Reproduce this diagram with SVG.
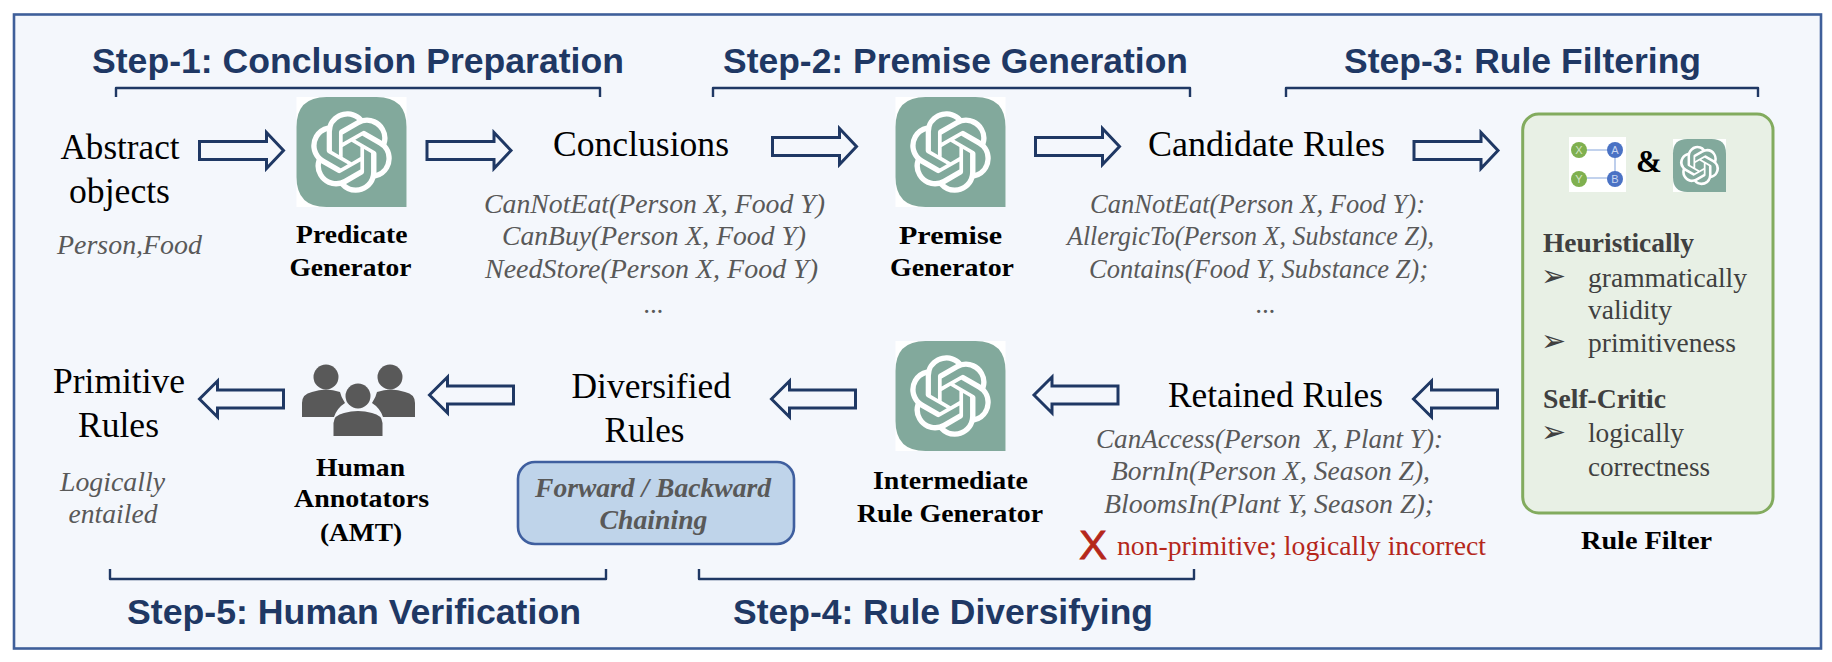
<svg xmlns="http://www.w3.org/2000/svg" width="1832" height="662" viewBox="0 0 1832 662">
<style>
text{font-family:"Liberation Serif","Times New Roman",serif;white-space:pre}
.step{font-family:"Liberation Sans",Arial,sans-serif;font-weight:700;font-size:35px;fill:#1f3864}
.node{font-size:36px;fill:#000}
.ital{font-size:26.500px;font-style:italic;fill:#595959}
.lab{font-size:26px;font-weight:700;fill:#000}
.fil{font-size:27px;fill:#404040}
.filb{font-size:27px;font-weight:700;fill:#404040}
.bul{font-family:"DejaVu Sans",sans-serif;font-size:30px;fill:#404040}
.red{font-size:27px;fill:#b5271b}
.arrow{fill:#f4f7fc;stroke:#1f3864;stroke-width:3;stroke-linejoin:miter}
.brace{fill:none;stroke:#1f3864;stroke-width:2.400;stroke-linejoin:round}
.tiny{font-family:"Liberation Sans",sans-serif;font-size:11px;text-anchor:middle}
</style>
<defs>
<symbol id="logo" viewBox="0 0 110 110">
<rect width="110" height="110" fill="#fff"/>
<path d="M30 0H80Q110 0 110 30V110H30Q0 110 0 80V30Q0 0 30 0Z" fill="#82a99c"/>
<path transform="translate(14.2 14.2) scale(3.4)" fill="#fff" d="M22.2819 9.8211a5.9847 5.9847 0 0 0-.5157-4.9108 6.0462 6.0462 0 0 0-6.5098-2.9A6.0651 6.0651 0 0 0 4.9807 4.1818a5.9847 5.9847 0 0 0-3.9977 2.9 6.0462 6.0462 0 0 0 .7427 7.0966 5.98 5.98 0 0 0 .511 4.9107 6.051 6.051 0 0 0 6.5146 2.9001A5.9847 5.9847 0 0 0 13.2599 24a6.0557 6.0557 0 0 0 5.7718-4.2058 5.9894 5.9894 0 0 0 3.9977-2.9001 6.0557 6.0557 0 0 0-.7475-7.0729zm-9.022 12.6081a4.4755 4.4755 0 0 1-2.8764-1.0408l.1419-.0804 4.7783-2.7582a.7948.7948 0 0 0 .3927-.6813v-6.7369l2.02 1.1686a.071.071 0 0 1 .038.052v5.5826a4.504 4.504 0 0 1-4.4945 4.4944zm-9.6607-4.1254a4.4708 4.4708 0 0 1-.5346-3.0137l.142.0852 4.783 2.7582a.7712.7712 0 0 0 .7806 0l5.8428-3.3685v2.3324a.0804.0804 0 0 1-.0332.0615L9.74 19.9502a4.4992 4.4992 0 0 1-6.1408-1.6464zM2.3408 7.8956a4.485 4.485 0 0 1 2.3655-1.9728V11.6a.7664.7664 0 0 0 .3879.6765l5.8144 3.3543-2.0201 1.1685a.0757.0757 0 0 1-.071 0l-4.8303-2.7865A4.504 4.504 0 0 1 2.3408 7.872zm16.5963 3.8558L13.1038 8.364 15.1192 7.2a.0757.0757 0 0 1 .071 0l4.8303 2.7913a4.4944 4.4944 0 0 1-.6765 8.1042v-5.6772a.79.79 0 0 0-.407-.667zm2.0107-3.0231l-.142-.0852-4.7735-2.7818a.7759.7759 0 0 0-.7854 0L9.409 9.2297V6.8974a.0662.0662 0 0 1 .0284-.0615l4.8303-2.7866a4.4992 4.4992 0 0 1 6.6802 4.66zM8.3065 12.863l-2.02-1.1638a.0804.0804 0 0 1-.038-.0567V6.0742a4.4992 4.4992 0 0 1 7.3757-3.4537l-.142.0805L8.704 5.459a.7948.7948 0 0 0-.3927.6813zm1.0976-2.3654l2.602-1.4998 2.6069 1.4998v2.9994l-2.5974 1.4997-2.6067-1.4997Z"/>
</symbol>
<path id="ar" d="M0-9H67V-18L84 0 67 18V9H0Z"/>
<path id="al" d="M84-9H18V-18L0 0 18 18V9H84Z"/>
</defs>

<rect id="frame" x="14" y="14.500" width="1807" height="634" fill="#f4f7fc" stroke="#3f5f9a" stroke-width="2.600"/>

<g id="connectors">
<use href="#ar" class="arrow" x="199.500" y="150.500"/>
<use href="#ar" class="arrow" x="427" y="150.500"/>
<use href="#ar" class="arrow" x="772.500" y="146.500"/>
<use href="#ar" class="arrow" x="1035.500" y="146.500"/>
<use href="#ar" class="arrow" x="1414" y="150.500"/>
<use href="#al" class="arrow" x="1413.500" y="399"/>
<use href="#al" class="arrow" x="1034" y="395"/>
<use href="#al" class="arrow" x="771.500" y="399"/>
<use href="#al" class="arrow" x="429.500" y="395"/>
<use href="#al" class="arrow" x="199.500" y="399"/>
</g>

<g id="step-1"><text class="step" x="92" y="72.500" textLength="532" lengthAdjust="spacingAndGlyphs">Step-1: Conclusion Preparation</text><path class="brace" d="M116 97V88H600V97"/></g>
<g id="step-2"><text class="step" x="723" y="72.500" textLength="465" lengthAdjust="spacingAndGlyphs">Step-2: Premise Generation</text><path class="brace" d="M713 97V88H1190V97"/></g>
<g id="step-3"><text class="step" x="1344" y="72.500" textLength="357" lengthAdjust="spacingAndGlyphs">Step-3: Rule Filtering</text><path class="brace" d="M1286 97V88H1758V97"/></g>
<g id="step-4"><text class="step" x="733" y="623.500" textLength="420" lengthAdjust="spacingAndGlyphs">Step-4: Rule Diversifying</text><path class="brace" d="M699 569V579H1194V569"/></g>
<g id="step-5"><text class="step" x="127" y="623.500" textLength="454" lengthAdjust="spacingAndGlyphs">Step-5: Human Verification</text><path class="brace" d="M110 569V579H606V569"/></g>

<g id="abstract-objects">
<text class="node" x="60.500" y="159" textLength="119" lengthAdjust="spacingAndGlyphs">Abstract</text>
<text class="node" x="69" y="203" textLength="101" lengthAdjust="spacingAndGlyphs">objects</text>
<text class="ital" x="57" y="254" textLength="145" lengthAdjust="spacingAndGlyphs">Person,Food</text>
</g>

<g id="predicate-generator">
<use href="#logo" x="296" y="97" width="111" height="110"/>
<text class="lab" x="296" y="243" textLength="111.500" lengthAdjust="spacingAndGlyphs">Predicate</text>
<text class="lab" x="289.500" y="275.500" textLength="122" lengthAdjust="spacingAndGlyphs">Generator</text>
</g>

<g id="conclusions">
<text class="node" x="553" y="155.500" textLength="176" lengthAdjust="spacingAndGlyphs">Conclusions</text>
<text class="ital" x="484" y="213" textLength="341" lengthAdjust="spacingAndGlyphs">CanNotEat(Person X, Food Y)</text>
<text class="ital" x="502" y="245" textLength="304" lengthAdjust="spacingAndGlyphs">CanBuy(Person X, Food Y)</text>
<text class="ital" x="485" y="278" textLength="333" lengthAdjust="spacingAndGlyphs">NeedStore(Person X, Food Y)</text>
<text class="ital" x="654" y="313" text-anchor="middle">...</text>
</g>

<g id="premise-generator">
<use href="#logo" x="895" y="97" width="111" height="110"/>
<text class="lab" x="899" y="243.500" textLength="103" lengthAdjust="spacingAndGlyphs">Premise</text>
<text class="lab" x="890" y="276" textLength="124" lengthAdjust="spacingAndGlyphs">Generator</text>
</g>

<g id="candidate-rules">
<text class="node" x="1148" y="155.500" textLength="237" lengthAdjust="spacingAndGlyphs">Candidate Rules</text>
<text class="ital" x="1090" y="213" textLength="335" lengthAdjust="spacingAndGlyphs">CanNotEat(Person X, Food Y):</text>
<text class="ital" x="1067" y="245" textLength="367" lengthAdjust="spacingAndGlyphs">AllergicTo(Person X, Substance Z),</text>
<text class="ital" x="1089" y="278" textLength="339" lengthAdjust="spacingAndGlyphs">Contains(Food Y, Substance Z);</text>
<text class="ital" x="1266" y="313" text-anchor="middle">...</text>
</g>

<g id="rule-filter">
<rect x="1522.700" y="114" width="250.300" height="399" rx="16" fill="#e8f0e5" stroke="#82ab5e" stroke-width="3"/>
<rect x="1569" y="137" width="57" height="55" fill="#fff"/>
<path d="M1579 150H1615V178H1579" fill="none" stroke="#aec3e8" stroke-width="1.600"/>
<circle cx="1579" cy="150" r="8" fill="#7fb04f"/><circle cx="1615" cy="150" r="8" fill="#4a72c4"/>
<circle cx="1579" cy="179" r="8" fill="#7fb04f"/><circle cx="1615" cy="179" r="8" fill="#4a72c4"/>
<text class="tiny" x="1579" y="154" fill="#d5e6c5">X</text>
<text class="tiny" x="1615" y="154" fill="#c8d6f0">A</text>
<text class="tiny" x="1579" y="183" fill="#d5e6c5">Y</text>
<text class="tiny" x="1615" y="183" fill="#c8d6f0">B</text>
<text x="1649" y="172" text-anchor="middle" font-size="31" font-weight="700">&amp;</text>
<use href="#logo" x="1672" y="139" width="55" height="53"/>
<text class="filb" x="1543" y="252" textLength="151" lengthAdjust="spacingAndGlyphs">Heuristically</text>
<text class="bul" x="1541" y="286">➢</text>
<text class="fil" x="1588" y="287" textLength="159" lengthAdjust="spacingAndGlyphs">grammatically</text>
<text class="fil" x="1588" y="319" textLength="84" lengthAdjust="spacingAndGlyphs">validity</text>
<text class="bul" x="1541" y="351">➢</text>
<text class="fil" x="1588" y="352" textLength="148" lengthAdjust="spacingAndGlyphs">primitiveness</text>
<text class="filb" x="1543" y="408" textLength="123" lengthAdjust="spacingAndGlyphs">Self-Critic</text>
<text class="bul" x="1541" y="442">➢</text>
<text class="fil" x="1588" y="442" textLength="96" lengthAdjust="spacingAndGlyphs">logically</text>
<text class="fil" x="1588" y="476" textLength="122" lengthAdjust="spacingAndGlyphs">correctness</text>
<text class="lab" x="1581" y="549" textLength="131" lengthAdjust="spacingAndGlyphs">Rule Filter</text>
</g>

<g id="retained-rules">
<text class="node" x="1168" y="407" textLength="215" lengthAdjust="spacingAndGlyphs">Retained Rules</text>
<text class="ital" x="1096" y="448" textLength="347" lengthAdjust="spacingAndGlyphs">CanAccess(Person  X, Plant Y):</text>
<text class="ital" x="1111" y="480" textLength="319" lengthAdjust="spacingAndGlyphs">BornIn(Person X, Season Z),</text>
<text class="ital" x="1104" y="513" textLength="330" lengthAdjust="spacingAndGlyphs">BloomsIn(Plant Y, Season Z);</text>
<text x="1079" y="559" font-size="40" textLength="28" lengthAdjust="spacingAndGlyphs" style="font-family:'Liberation Sans',sans-serif" fill="#b5271b" stroke="#b5271b" stroke-width="0.800">X</text>
<text class="red" x="1117" y="555" textLength="369" lengthAdjust="spacingAndGlyphs">non-primitive; logically incorrect</text>
</g>

<g id="intermediate-rule-generator">
<use href="#logo" x="895" y="341" width="111" height="110"/>
<text class="lab" x="873" y="489" textLength="155" lengthAdjust="spacingAndGlyphs">Intermediate</text>
<text class="lab" x="857" y="522" textLength="186" lengthAdjust="spacingAndGlyphs">Rule Generator</text>
</g>

<g id="diversified-rules">
<text class="node" x="571.500" y="398" textLength="159.500" lengthAdjust="spacingAndGlyphs">Diversified</text>
<text class="node" x="604.500" y="442" textLength="80" lengthAdjust="spacingAndGlyphs">Rules</text>
<rect x="518" y="462" width="276" height="82" rx="17" fill="#bfd4ea" stroke="#3f5f9f" stroke-width="2.600"/>
<text class="ital" font-weight="700" x="535" y="497" textLength="236" lengthAdjust="spacingAndGlyphs">Forward / Backward</text>
<text class="ital" font-weight="700" x="599.500" y="529" textLength="108" lengthAdjust="spacingAndGlyphs">Chaining</text>
</g>

<g id="human-annotators">
<g fill="#595959">
<circle cx="326" cy="377" r="12.500"/><circle cx="390" cy="377" r="12.500"/><circle cx="358" cy="396" r="12.500"/>
<path d="M302 417V403Q302 394 312 392Q326 387 340 392Q341 397 345 403Q337 408 334 417Z"/>
<path d="M415 417V403Q415 394 405 392Q391 387 377 392Q376 397 372 403Q380 408 383 417Z"/>
<path d="M333.500 436V423Q334 415 344 413Q358 409 372 413Q382 415 382.500 423V436Z"/>
</g>
<text class="lab" x="316" y="476" textLength="89" lengthAdjust="spacingAndGlyphs">Human</text>
<text class="lab" x="294" y="507" textLength="135" lengthAdjust="spacingAndGlyphs">Annotators</text>
<text class="lab" x="320" y="541" textLength="82" lengthAdjust="spacingAndGlyphs">(AMT)</text>
</g>

<g id="primitive-rules">
<text class="node" x="53" y="393" textLength="132" lengthAdjust="spacingAndGlyphs">Primitive</text>
<text class="node" x="78" y="437" textLength="81" lengthAdjust="spacingAndGlyphs">Rules</text>
<text class="ital" x="60" y="491" textLength="105" lengthAdjust="spacingAndGlyphs">Logically</text>
<text class="ital" x="68.500" y="523" textLength="89" lengthAdjust="spacingAndGlyphs">entailed</text>
</g>
</svg>
